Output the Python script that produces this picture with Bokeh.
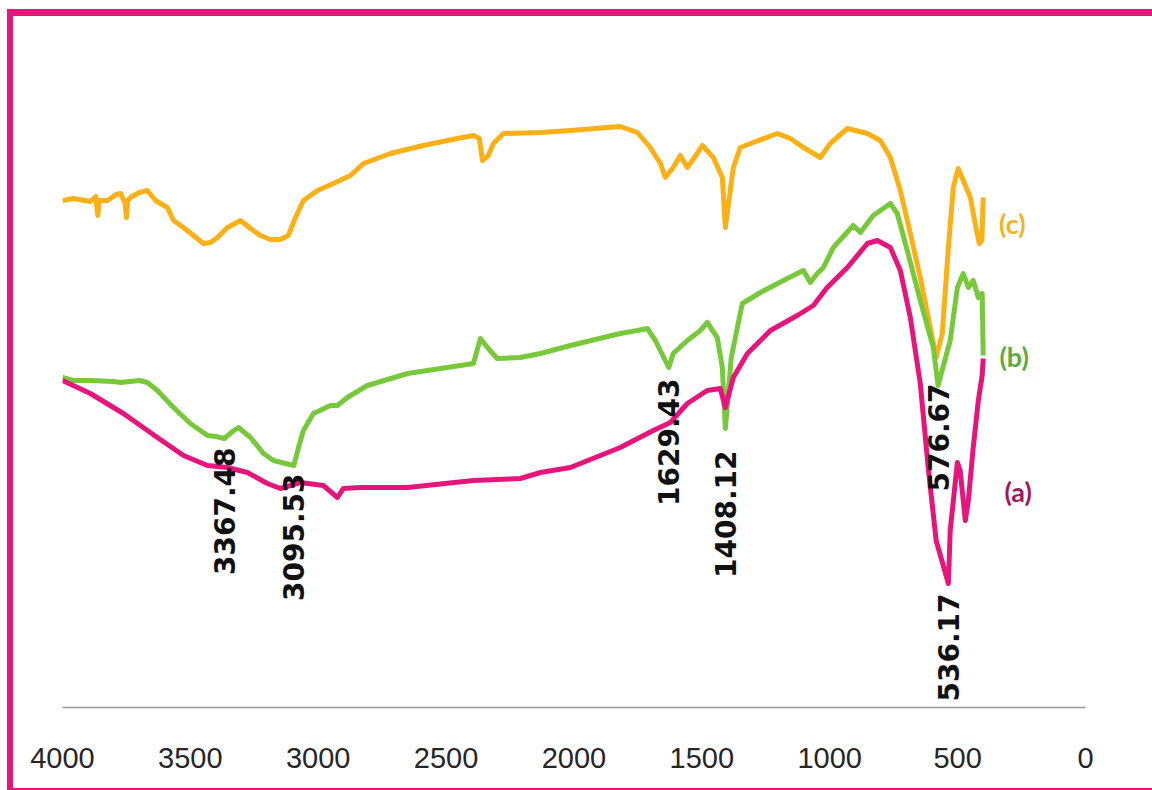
from math import pi

from bokeh.core.properties import value
from bokeh.embed import file_html
from bokeh.models import FixedTicker, Range1d
from bokeh.plotting import figure
from bokeh.resources import INLINE

# FTIR spectra, wavenumber (cm-1) against transmittance (arbitrary units, offset traces)
wn_c = [4000, 3957, 3891, 3870, 3862, 3856, 3824, 3790, 3773, 3755, 3750, 3745, 3734,
        3700, 3668, 3636, 3590, 3566, 3527, 3488, 3449, 3421, 3394, 3355, 3304, 3265,
        3226, 3187, 3148, 3117, 3089, 3058, 3003, 2941, 2874, 2823, 2718, 2589, 2456,
        2393, 2370, 2358, 2335, 2315, 2276, 2131, 2014, 1819, 1752, 1702, 1662, 1643,
        1612, 1584, 1557, 1518, 1498, 1455, 1420, 1408.12, 1377, 1350, 1299, 1205, 1154,
        1103, 1037, 998, 931, 853, 802, 763, 724, 685, 646, 607, 584, 560, 537, 517,
        498, 478, 450, 430, 415, 405, 400]
tr_c = [50.7, 50.9, 50.6, 51.1, 49.2, 50.7, 50.7, 51.3, 51.4, 50.4, 49.0, 50.7, 51.0,
        51.5, 51.7, 50.7, 50.0, 48.7, 48.0, 47.2, 46.4, 46.5, 47.0, 48.0, 48.7, 47.9,
        47.2, 46.8, 46.8, 47.2, 49.0, 50.7, 51.7, 52.4, 53.2, 54.4, 55.4, 56.2, 56.9,
        57.2, 56.9, 54.7, 55.2, 56.4, 57.4, 57.5, 57.7, 58.1, 57.5, 56.0, 54.4, 53.0,
        54.0, 55.2, 54.0, 55.4, 56.2, 55.0, 53.0, 48.0, 54.0, 56.0, 56.5, 57.4, 56.9,
        56.0, 55.0, 56.4, 57.9, 57.4, 56.7, 55.0, 51.7, 47.4, 43.0, 38.0, 35.0, 37.4,
        45.7, 52.0, 53.9, 52.7, 51.0, 48.2, 46.4, 46.7, 51.0]

wn_b = [4000, 3957, 3891, 3800, 3773, 3700, 3668, 3629, 3566, 3500, 3433, 3400, 3367.48,
        3330, 3312, 3265, 3214, 3175, 3128, 3095.53, 3075, 3058, 3019, 2952, 2925, 2886,
        2808, 2651, 2522, 2393, 2366, 2335, 2300, 2210, 2131, 2014, 1819, 1752, 1713,
        1682, 1629.43, 1612, 1557, 1506, 1479, 1440, 1420, 1408.12, 1385, 1342, 1271,
        1166, 1103, 1076, 1049, 1025, 986, 908, 880, 830, 763, 736, 697, 646, 595,
        576.67, 529, 501, 478, 458, 439, 419, 404, 400]
tr_b = [33.0, 32.7, 32.7, 32.6, 32.5, 32.7, 32.5, 31.7, 30.0, 28.4, 27.2, 27.1, 26.9,
        27.7, 28.0, 27.0, 25.4, 24.7, 24.4, 24.2, 26.2, 27.7, 29.4, 30.2, 30.2, 31.0,
        32.2, 33.4, 33.9, 34.4, 36.9, 35.9, 34.9, 35.0, 35.4, 36.2, 37.4, 37.7, 37.9,
        36.7, 34.0, 35.4, 36.7, 37.7, 38.5, 37.0, 34.0, 27.9, 35.0, 40.4, 41.5,
        42.9, 43.7, 42.5, 43.4, 44.0, 46.0, 48.2, 47.5, 49.2, 50.4, 49.4, 45.7, 40.7, 36.0,
        32.2, 36.7, 42.0, 43.4, 42.0, 42.7, 41.0, 41.4, 35.2]

wn_a = [4000, 3891, 3762, 3629, 3527, 3433, 3355, 3277, 3199, 3148, 3070, 2980, 2925,
        2902, 2835, 2651, 2393, 2210, 2131, 2014, 1819, 1690, 1623, 1557, 1479, 1428,
        1408.12, 1377, 1322, 1232, 1127, 1064, 1010, 931, 853, 814, 763, 724, 685, 646,
        615, 584, 536.17, 529, 501, 490, 470, 458, 439, 419, 404, 400]
tr_a = [32.7, 31.4, 29.4, 27.0, 25.2, 24.2, 24.0, 23.5, 22.4, 21.9, 22.5, 22.2, 21.0,
        21.9, 22.0, 22.0, 22.7, 22.9, 23.5, 24.0, 26.0, 27.7, 28.5, 30.4, 31.7, 31.9,
        30.0, 33.0, 35.4, 37.7, 39.2, 40.2, 42.0, 44.0, 46.4, 46.7, 46.0, 43.7, 39.0, 32.4,
        24.0, 16.7, 12.4, 17.7, 24.5, 23.7, 18.7, 20.7, 26.0, 30.7, 33.2, 34.9]

# assigned band positions and where each rotated label ends
peak_wn = [3367.48, 3095.53, 1629.43, 1408.12, 576.67, 536.17]
peak_text = ["3367.48", "3095.53", "1629.43", "1408.12", "576.67", "536.17"]
peak_label_top = [26.0, 23.4, 32.9, 25.7, 32.4, 11.4]

# sample tags placed at the right-hand end of each trace
tag_text = ["(c)", "(b)", "(a)"]
tag_wn = [286, 279, 263]
tag_tr = [48.4, 35.1, 21.6]
tag_color = ["#f4b21c", "#62a83c", "#a3175f"]

x_ticks = [4000, 3500, 3000, 2500, 2000, 1500, 1000, 500, 0]

p = figure(width=1145, height=785, output_backend="svg", toolbar_location=None,
           x_range=Range1d(4000, 0), y_range=Range1d(0, 69),
           y_axis_location=None, min_border_left=49, min_border_right=73,
           min_border_top=1, min_border_bottom=94)
# pink frame round the whole chart
p.styles = {"margin-left": "7px", "margin-top": "9px", "overflow": "hidden",
            "border-left": "6px solid #e5177a", "border-top": "7px solid #e5177a",
            "border-bottom": "6px solid #e5177a"}
p.outline_line_color = None
p.background_fill_color = "white"
p.border_fill_color = "white"
p.grid.visible = False

ax = p.xaxis[0]
ax.ticker = FixedTicker(ticks=x_ticks)
ax.axis_line_color = "#9a9a9a"
ax.axis_line_width = 1.6
ax.major_tick_line_color = None
ax.minor_tick_line_color = None
ax.major_label_standoff = 34
ax.major_label_text_font = "Liberation Sans"
ax.major_label_text_font_size = "29px"
ax.major_label_text_color = "#262626"

p.line(wn_c, tr_c, line_color="#fbb116", line_width=5, line_join="round")
p.line(wn_b, tr_b, line_color="#77c83a", line_width=5, line_join="round")
p.line(wn_a, tr_a, line_color="#e6157b", line_width=5, line_join="round")

p.text(x=peak_wn, y=peak_label_top, text=peak_text, angle=pi / 2,
       text_align="right", text_baseline="middle",
       text_font=value("DejaVu Sans"), text_font_style="bold",
       text_font_size="28px", text_color="#111111")

p.text(x=tag_wn, y=tag_tr, text=tag_text, text_color=tag_color,
       text_align="center", text_baseline="middle",
       text_font=value("Lato"), text_font_style="bold",
       text_font_size="27px")

open("out.html", "w").write(file_html(p, INLINE))
